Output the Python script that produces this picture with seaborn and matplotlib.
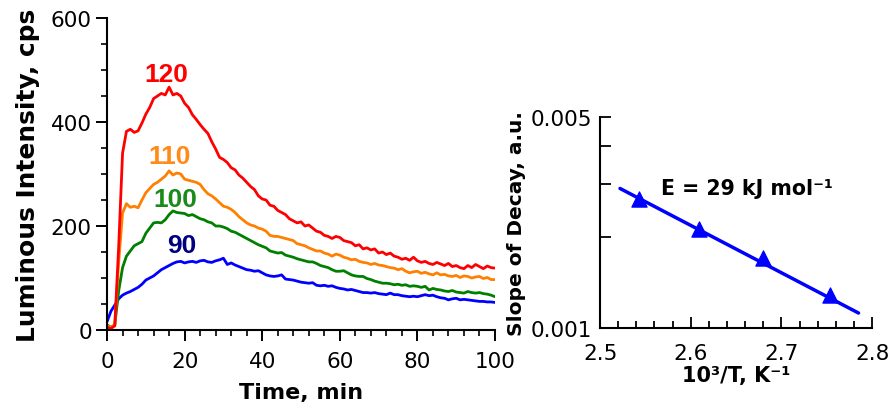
import matplotlib
matplotlib.use("Agg")
import matplotlib.pyplot as plt
import matplotlib.ticker as mticker
import seaborn as sns
import pandas as pd

# ---- left panel: luminous intensity vs time (one reading per minute), per temperature (°C) ----
t_min = list(range(0, 101))

i_120 = [5, 3, 8, 160, 340, 382, 386, 380, 383, 398, 415, 428, 445, 450, 455, 452, 467, 452, 455, 450,
         436, 428, 414, 405, 395, 386, 378, 362, 348, 332, 328, 322, 312, 308, 298, 292, 284, 276, 270, 258,
         252, 250, 240, 238, 230, 226, 222, 214, 210, 206, 208, 200, 202, 196, 190, 188, 182, 180, 176, 180,
         178, 172, 170, 168, 162, 164, 156, 158, 154, 156, 148, 150, 145, 148, 142, 140, 136, 138, 134, 140,
         133, 130, 132, 128, 126, 130, 127, 124, 128, 122, 124, 120, 118, 124, 120, 126, 122, 118, 123, 120,
         119]
i_110 = [8, 5, 10, 130, 225, 243, 236, 238, 235, 250, 264, 272, 280, 284, 290, 296, 306, 298, 302, 300,
         290, 288, 286, 284, 280, 270, 262, 258, 252, 245, 238, 236, 232, 226, 218, 212, 206, 202, 200, 196,
         194, 190, 182, 180, 180, 178, 176, 174, 172, 166, 164, 162, 158, 155, 152, 152, 148, 146, 142, 146,
         144, 140, 138, 135, 136, 132, 130, 129, 126, 128, 125, 124, 122, 120, 119, 116, 118, 113, 110, 112,
         113, 109, 111, 108, 106, 110, 106, 107, 104, 103, 105, 101, 104, 103, 100, 102, 103, 99, 101, 97,
         97]
i_100 = [10, 5, 10, 75, 120, 142, 152, 162, 166, 170, 186, 196, 206, 207, 206, 212, 222, 229, 226, 225,
         224, 220, 222, 218, 214, 212, 208, 206, 200, 200, 198, 195, 190, 188, 184, 180, 176, 172, 168, 164,
         161, 158, 152, 150, 148, 149, 144, 142, 140, 137, 135, 133, 131, 131, 128, 124, 122, 120, 116, 113,
         113, 114, 110, 106, 104, 103, 103, 99, 97, 94, 92, 90, 90, 89, 87, 88, 86, 87, 84, 85,
         84, 82, 84, 77, 80, 78, 77, 75, 74, 76, 73, 72, 71, 74, 72, 71, 72, 70, 69, 67,
         64]
i_90 = [16, 36, 48, 60, 67, 71, 74, 78, 82, 88, 96, 100, 104, 110, 116, 120, 124, 128, 131, 132,
        129, 131, 132, 130, 133, 134, 131, 130, 133, 135, 138, 126, 129, 125, 122, 119, 116, 115, 113, 114,
        110, 106, 104, 103, 104, 106, 98, 97, 96, 94, 92, 91, 90, 91, 86, 85, 86, 84, 85, 82,
        80, 79, 77, 78, 76, 74, 72, 72, 71, 72, 70, 69, 68, 71, 68, 68, 66, 65, 64, 65,
        64, 66, 68, 66, 67, 64, 62, 61, 58, 60, 61, 58, 59, 58, 57, 56, 55, 55, 54, 54,
        53]

temps = ["120", "110", "100", "90"]
curve_colors = {"120": "#ff0000", "110": "#ff8000", "100": "#008000", "90": "#0000ff"}
label_colors = {"120": "#ff0000", "110": "#ff8a1a", "100": "#1a8a1a", "90": "#000080"}
label_x = {"120": 15.4, "110": 16.2, "100": 17.5, "90": 19.2}
label_y = {"120": 492, "110": 334, "100": 251, "90": 164}

# ---- right panel: Arrhenius plot of decay slopes ----
inv_T = [2.543, 2.609, 2.680, 2.754]
slope = [0.00267, 0.00212, 0.00171, 0.00129]
fit_x = [2.522, 2.785]
fit_y = [0.00290, 0.00112]

frames = []
for name, ii in [("120", i_120), ("110", i_110), ("100", i_100), ("90", i_90)]:
    frames.append(pd.DataFrame({"time": t_min, "intensity": ii, "temp": name}))
df = pd.concat(frames, ignore_index=True)

sns.set_style("ticks")
plt.rcParams["font.family"] = ["DejaVu Sans"]
plt.rcParams["axes.linewidth"] = 1.5
for key in ["text.color", "axes.labelcolor", "xtick.color", "ytick.color", "axes.edgecolor"]:
    plt.rcParams[key] = "black"

fig = plt.figure(figsize=(8.89, 4.06), dpi=100)
ax1 = fig.add_axes([0.1204, 0.1847, 0.4364, 0.7685])
ax2 = fig.add_axes([0.675, 0.190, 0.306, 0.519])

sns.lineplot(data=df, x="time", y="intensity", hue="temp", hue_order=temps[::-1],
             palette=curve_colors, linewidth=2.0, legend=False, ax=ax1, estimator=None,
             sort=False)
for name in temps:
    ax1.text(label_x[name], label_y[name], name, color=label_colors[name], fontsize=19,
             fontweight="bold", ha="center", va="center", family="Liberation Sans")

ax1.set_xlim(0, 100)
ax1.set_ylim(0, 600)
ax1.xaxis.set_major_locator(mticker.MultipleLocator(20))
ax1.xaxis.set_minor_locator(mticker.MultipleLocator(4))
ax1.yaxis.set_major_locator(mticker.MultipleLocator(200))
ax1.yaxis.set_minor_locator(mticker.MultipleLocator(50))
ax1.tick_params(axis="both", which="major", direction="out", length=8, width=1.4, labelsize=15.5)
ax1.tick_params(axis="both", which="minor", direction="out", length=4.5, width=1.2)
ax1.tick_params(axis="x", which="major", pad=7)
ax1.tick_params(axis="y", which="major", pad=3)
ax1.set_xlabel("Time, min", fontsize=16, fontweight="bold", labelpad=8)
ax1.set_ylabel("Luminous Intensity, cps", fontsize=17.9, fontweight="bold", labelpad=8)
sns.despine(ax=ax1)

# Arrhenius plot
sns.lineplot(x=fit_x, y=fit_y, color="#0000ff", linewidth=2.5, ax=ax2)
sns.scatterplot(x=inv_T, y=slope, marker="^", s=120, color="#0000ff", edgecolor="#0000ff",
                ax=ax2, zorder=3)
ax2.set_yscale("log")
ax2.set_xlim(2.5, 2.8)
ax2.set_ylim(0.001, 0.005)
ax2.yaxis.set_major_locator(mticker.FixedLocator([0.001, 0.005]))
ax2.yaxis.set_major_formatter(mticker.FixedFormatter(["0.001", "0.005"]))
ax2.yaxis.set_minor_locator(mticker.FixedLocator([0.002, 0.003, 0.004]))
ax2.yaxis.set_minor_formatter(mticker.NullFormatter())
ax2.xaxis.set_major_locator(mticker.MultipleLocator(0.1))
ax2.xaxis.set_minor_locator(mticker.MultipleLocator(0.02))
ax2.xaxis.set_major_formatter(mticker.FormatStrFormatter("%.1f"))
ax2.tick_params(axis="both", which="both", direction="in", width=1.3, labelsize=15.5)
ax2.tick_params(axis="x", which="major", length=8, pad=11)
ax2.tick_params(axis="x", which="minor", length=5)
ax2.tick_params(axis="y", which="both", length=8, pad=6)
ax2.set_xlabel("10³/T, K⁻¹", fontsize=15, fontweight="bold", labelpad=1)
ax2.set_ylabel("Slope of Decay, a.u.", fontsize=14.5, fontweight="bold", labelpad=3)
ax2.text(2.662, 0.00292, "E = 29 kJ mol⁻¹", fontsize=14.8, fontweight="bold",
         ha="center", va="center")
sns.despine(ax=ax2)

fig.savefig("out.png", dpi=100)
